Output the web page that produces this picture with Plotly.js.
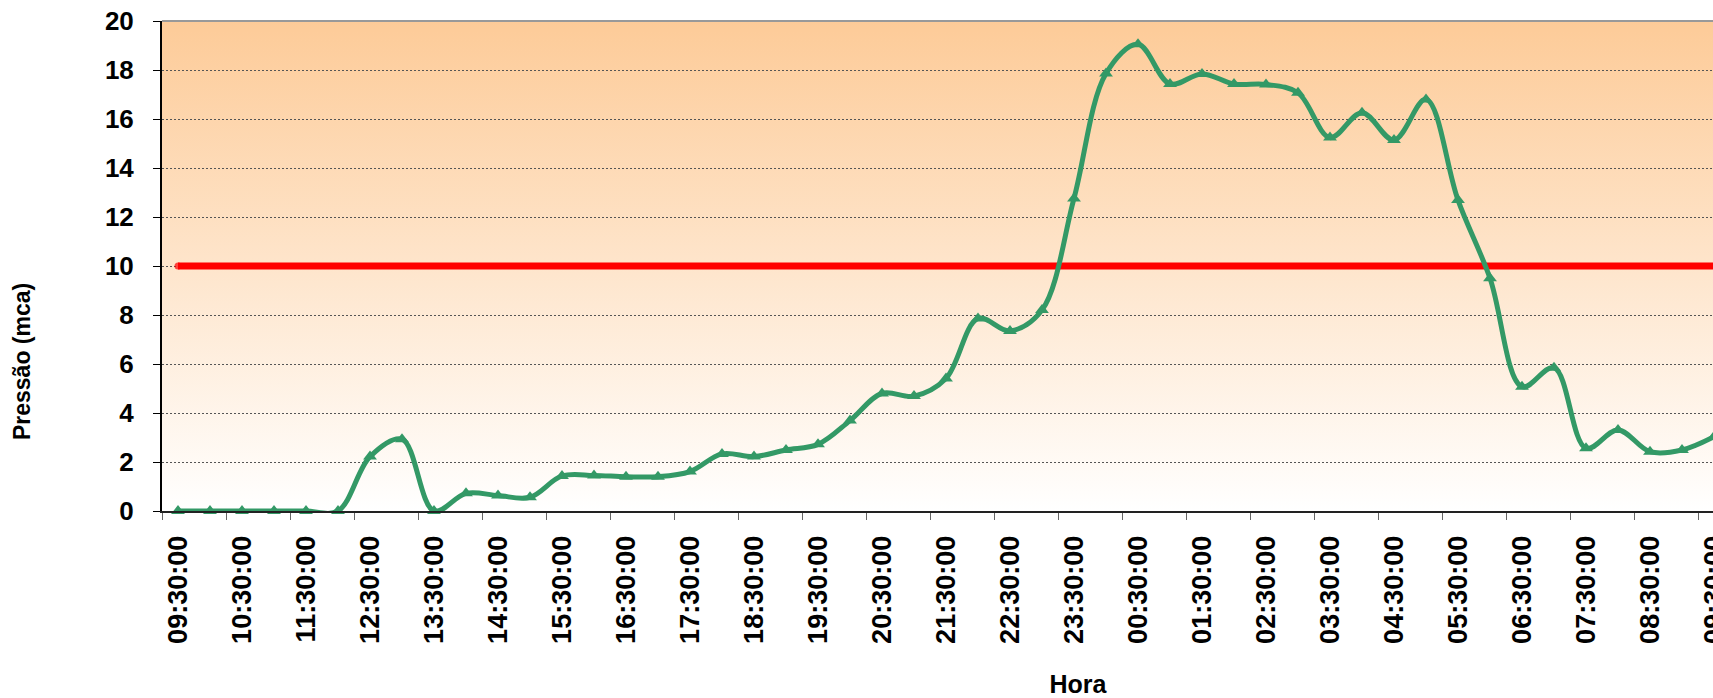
<!DOCTYPE html>
<html>
<head>
<meta charset="utf-8">
<script src="https://cdn.plot.ly/plotly-3.0.1.min.js"></script>
<style>
  html, body { margin: 0; padding: 0; background: #ffffff; overflow: hidden; }
  #wrap { width: 1713px; height: 698px; overflow: hidden; position: relative; }
  #chart { width: 2050px; height: 698px; }
</style>
</head>
<body>
<div id="wrap"><div id="chart"></div></div>
<script>
// Half-hourly readings (categories)
const times = [
  "09:30:00","10:00:00","10:30:00","11:00:00","11:30:00","12:00:00","12:30:00","13:00:00",
  "13:30:00","14:00:00","14:30:00","15:00:00","15:30:00","16:00:00","16:30:00","17:00:00",
  "17:30:00","18:00:00","18:30:00","19:00:00","19:30:00","20:00:00","20:30:00","21:00:00",
  "21:30:00","22:00:00","22:30:00","23:00:00","23:30:00","00:00:00","00:30:00","01:00:00",
  "01:30:00","02:00:00","02:30:00","03:00:00","03:30:00","04:00:00","04:30:00","05:00:00",
  "05:30:00","06:00:00","06:30:00","07:00:00","07:30:00","08:00:00","08:30:00","09:00:00",
  "09:30:00"
];

// Measured pressure (mca)
const pressure = [
  0, 0, 0, 0, 0, 0, 2.22, 2.93,
  0, 0.72, 0.63, 0.56, 1.43, 1.45, 1.40, 1.40,
  1.61, 2.33, 2.22, 2.49, 2.72, 3.69, 4.80, 4.69,
  5.41, 7.86, 7.35, 8.20, 12.76, 17.86, 19.05, 17.43,
  17.84, 17.43, 17.41, 17.07, 15.24, 16.26, 15.14, 16.80,
  12.69, 9.50, 5.07, 5.85, 2.56, 3.31, 2.42, 2.49,
  3.03
];

// Minimum pressure reference (mca)
const limit = [
  10, 10, 10, 10, 10, 10, 10, 10,
  10, 10, 10, 10, 10, 10, 10, 10,
  10, 10, 10, 10, 10, 10, 10, 10,
  10, 10, 10, 10, 10, 10, 10, 10,
  10, 10, 10, 10, 10, 10, 10, 10,
  10, 10, 10, 10, 10, 10, 10, 10,
  10
];

// Tick labels: one every hour
const tickIdx = times.map((t, i) => i).filter(i => i % 2 === 0);
const tickLabels = tickIdx.map(i => times[i]);
const xPos = times.map((t, i) => i);
const boundaries = [];
for (let b = -0.5; b <= 57; b += 2) boundaries.push(b);

const FONT = "Liberation Sans, Arial, Helvetica, sans-serif";

const bgSvg = '<svg xmlns="http://www.w3.org/2000/svg" width="10" height="100" preserveAspectRatio="none">' +
  '<defs><linearGradient id="g" x1="0" y1="0" x2="0" y2="1">' +
  '<stop offset="0" stop-color="#FDCB98"/><stop offset="1" stop-color="#FFFFFF"/>' +
  '</linearGradient></defs><rect x="0" y="0" width="10" height="100" fill="url(#g)"/></svg>';

const traces = [
  {
    x: xPos, y: limit, type: "scatter", mode: "lines+markers",
    line: { color: "#FF0000", width: 7 },
    marker: { color: "#FF0000", size: xPos.map(i => (i === 0 ? 7 : 0)), line: { width: 0 } },
    hoverinfo: "skip", showlegend: false
  },
  {
    x: xPos, y: pressure, type: "scatter", mode: "lines+markers",
    line: { color: "#339966", width: 5, shape: "spline", smoothing: 1 },
    marker: { color: "#339966", symbol: "triangle-up", size: 12 },
    cliponaxis: false, showlegend: false,
    text: times, hovertemplate: "%{text}: %{y}<extra></extra>"
  }
];

const layout = {
  width: 2050, height: 698,
  margin: { l: 162, r: 56, t: 21, b: 187 },
  paper_bgcolor: "#ffffff",
  plot_bgcolor: "#ffffff",
  showlegend: false,
  font: { family: FONT, color: "#000000" },
  images: [{
    source: "data:image/svg+xml;charset=utf-8," + encodeURIComponent(bgSvg),
    xref: "paper", yref: "paper", x: 0, y: 1, sizex: 1, sizey: 1,
    sizing: "stretch", xanchor: "left", yanchor: "top", layer: "below"
  }],
  shapes: [{
    type: "line", xref: "paper", yref: "paper", x0: 0, x1: 1, y0: 1, y1: 1,
    line: { color: "#999999", width: 2 }
  }],
  annotations: [{
    text: "Pressão (mca)", textangle: -90, showarrow: false,
    xref: "paper", yref: "paper", x: -0.0764, y: 0.304,
    xanchor: "center", yanchor: "middle",
    font: { family: FONT, size: 23, weight: "bold", color: "#000000" }
  }],
  xaxis: {
    range: [-0.5, 56.75],
    tickmode: "array", tickvals: tickIdx, ticktext: tickLabels,
    tickangle: -90,
    tickfont: { family: FONT, size: 27, weight: "bold", color: "#000000" },
    ticks: "", ticklabelstandoff: 12,
    minor: { tickmode: "array", tickvals: boundaries, ticks: "outside", ticklen: 7, tickwidth: 1, tickcolor: "#666666", showgrid: false },
    showline: true, linecolor: "#222222", linewidth: 2,
    showgrid: false, zeroline: false, automargin: false,
    title: { text: "Hora", font: { family: FONT, size: 25, weight: "bold", color: "#000000" }, standoff: 40 }
  },
  yaxis: {
    range: [0, 20], tick0: 0, dtick: 2,
    tickfont: { family: FONT, size: 26, weight: "bold", color: "#000000" },
    ticks: "outside", ticklen: 7, tickwidth: 1, tickcolor: "#000000",
    ticklabelstandoff: 14,
    showline: true, linecolor: "#000000", linewidth: 2,
    showgrid: true, gridcolor: "#555555", gridwidth: 1, griddash: "2px,2px",
    zeroline: false, automargin: false
  }
};

Plotly.newPlot("chart", traces, layout, { displayModeBar: false, staticPlot: true });
</script>
</body>
</html>
